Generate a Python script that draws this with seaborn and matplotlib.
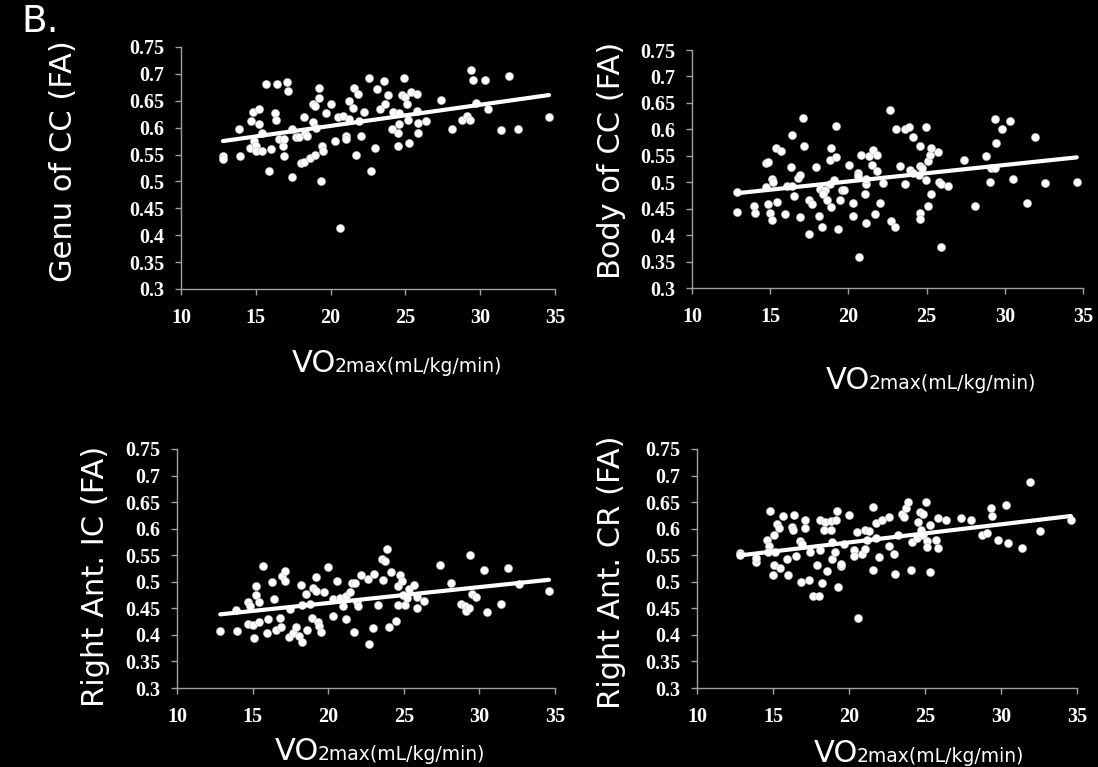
import numpy as np
import pandas as pd
import seaborn as sns
import matplotlib.pyplot as plt
from matplotlib.offsetbox import TextArea, HPacker, AnnotationBbox

# Data (VO2max vs. FA)
genu_x = [12.8, 12.8, 13.9, 13.95, 14.65, 14.6, 14.8, 14.9, 15.0, 15.0, 15.2, 15.2, 15.4, 15.4, 15.7, 15.9,
          16.0, 16.3, 16.35, 16.4, 16.55, 16.8, 16.9, 16.9, 17.1, 17.15, 17.4, 17.45, 17.7, 17.9, 18.05, 18.2,
          18.2, 18.3, 18.4, 18.6, 18.85, 18.85, 18.95, 18.95, 19.05, 19.2, 19.2, 19.4, 19.5, 19.35, 19.7, 20.05,
          20.3, 20.5, 20.65, 20.8, 21.05, 21.05, 21.2, 21.25, 21.5, 21.55, 21.7, 21.8, 21.9, 22.0, 22.2, 22.6,
          22.7, 22.95, 23.1, 23.3, 23.6, 23.65, 23.85, 24.1, 24.2, 24.5, 24.5, 24.6, 24.6, 24.8, 24.9, 24.95,
          25.1, 25.15, 25.25, 25.35, 25.75, 25.8, 25.85, 25.85, 26.4, 27.4, 28.1, 28.8, 29.1, 29.3, 29.4, 29.5,
          29.75, 30.3, 30.5, 31.4, 31.95, 32.55, 34.6]
genu_y = [0.547, 0.542, 0.598, 0.547, 0.612, 0.562, 0.63, 0.575, 0.565, 0.556, 0.606, 0.635, 0.59, 0.557, 0.681,
          0.52, 0.56, 0.628, 0.614, 0.681, 0.578, 0.565, 0.578, 0.547, 0.684, 0.669, 0.509, 0.598, 0.582, 0.582,
          0.535, 0.62, 0.537, 0.59, 0.585, 0.544, 0.61, 0.644, 0.64, 0.55, 0.6, 0.655, 0.674, 0.565, 0.556, 0.501,
          0.628, 0.644, 0.576, 0.62, 0.414, 0.622, 0.584, 0.579, 0.617, 0.649, 0.636, 0.674, 0.55, 0.663, 0.612,
          0.584, 0.63, 0.692, 0.52, 0.563, 0.671, 0.635, 0.686, 0.644, 0.661, 0.598, 0.63, 0.59, 0.565, 0.627,
          0.607, 0.66, 0.692, 0.657, 0.644, 0.615, 0.571, 0.666, 0.663, 0.631, 0.609, 0.59, 0.612, 0.652, 0.598,
          0.615, 0.622, 0.615, 0.707, 0.689, 0.645, 0.689, 0.635, 0.595, 0.697, 0.598, 0.62]

body_x = [12.87, 12.87, 13.94, 14.0, 14.7, 14.75, 14.85, 14.85, 15.0, 15.1, 15.1, 15.2, 15.4, 15.7, 15.45, 15.95,
          16.05, 16.3, 16.4, 16.4, 16.55, 16.8, 16.9, 16.9, 17.1, 17.15, 17.45, 17.5, 17.65, 17.9, 18.1, 18.2,
          18.4, 18.5, 18.3, 18.4, 18.6, 18.8, 18.85, 18.9, 18.9, 19.1, 19.2, 19.2, 19.35, 19.45, 19.6, 19.75,
          20.05, 20.3, 20.3, 20.6, 20.6, 20.65, 20.8, 21.05, 21.1, 21.15, 21.1, 21.3, 21.5, 21.6, 21.8, 21.7,
          21.85, 22.0, 22.2, 22.65, 22.7, 22.95, 23.05, 23.3, 23.6, 23.85, 23.65, 23.95, 24.15, 24.15, 24.5,
          24.55, 24.55, 24.6, 24.6, 24.7, 24.95, 24.95, 25.1, 25.1, 25.2, 25.3, 25.3, 25.7, 25.8, 25.9, 25.9,
          26.4, 27.4, 28.1, 28.8, 29.05, 29.1, 29.35, 29.35, 29.45, 29.8, 30.35, 30.5, 31.45, 31.95, 32.55, 34.6]
body_y = [0.482, 0.444, 0.455, 0.442, 0.491, 0.537, 0.539, 0.458, 0.442, 0.428, 0.507, 0.5, 0.565, 0.559, 0.463,
          0.439, 0.493, 0.528, 0.59, 0.493, 0.474, 0.508, 0.513, 0.434, 0.622, 0.568, 0.402, 0.467, 0.459, 0.528,
          0.436, 0.487, 0.482, 0.485, 0.415, 0.477, 0.466, 0.496, 0.542, 0.564, 0.453, 0.505, 0.547, 0.607, 0.412,
          0.466, 0.485, 0.485, 0.533, 0.461, 0.436, 0.517, 0.512, 0.359, 0.551, 0.477, 0.496, 0.507, 0.423, 0.549,
          0.533, 0.561, 0.551, 0.439, 0.521, 0.461, 0.498, 0.636, 0.426, 0.415, 0.6, 0.531, 0.6, 0.604, 0.496,
          0.523, 0.585, 0.517, 0.513, 0.442, 0.431, 0.568, 0.531, 0.526, 0.604, 0.504, 0.455, 0.54, 0.551, 0.564,
          0.477, 0.558, 0.5, 0.496, 0.378, 0.493, 0.542, 0.455, 0.549, 0.5, 0.526, 0.526, 0.619, 0.575, 0.6,
          0.616, 0.507, 0.461, 0.585, 0.498, 0.501]

ic_x = [12.86, 13.92, 13.96, 14.67, 14.67, 14.85, 15.0, 15.1, 15.2, 15.25, 15.4, 15.45, 15.7, 15.95, 16.0, 16.3,
        16.4, 16.55, 16.8, 16.9, 16.95, 17.15, 17.15, 17.4, 17.5, 17.65, 17.9, 18.05, 18.2, 18.25, 18.3, 18.5,
        18.6, 18.8, 18.9, 19.0, 19.2, 19.2, 19.35, 19.4, 19.5, 19.7, 20.0, 20.3, 20.3, 20.55, 20.8, 21.0, 21.15,
        21.2, 21.45, 21.6, 21.8, 21.7, 21.9, 22.0, 22.2, 22.6, 22.7, 22.95, 23.05, 23.3, 23.6, 23.55, 23.75,
        23.9, 24.05, 24.15, 24.5, 24.6, 24.6, 24.75, 24.85, 24.95, 25.1, 25.2, 25.35, 25.7, 25.85, 25.85, 26.35,
        27.4, 28.1, 28.75, 29.05, 29.1, 29.3, 29.4, 29.5, 29.8, 30.3, 30.5, 31.45, 31.9, 32.6, 34.6]
ic_y = [0.407, 0.446, 0.408, 0.421, 0.462, 0.455, 0.418, 0.394, 0.475, 0.492, 0.462, 0.424, 0.529, 0.403, 0.429,
        0.499, 0.468, 0.41, 0.432, 0.415, 0.51, 0.521, 0.501, 0.396, 0.448, 0.404, 0.415, 0.398, 0.494, 0.387,
        0.457, 0.477, 0.41, 0.459, 0.432, 0.489, 0.509, 0.482, 0.424, 0.417, 0.405, 0.48, 0.528, 0.435, 0.467,
        0.501, 0.47, 0.454, 0.429, 0.473, 0.481, 0.497, 0.497, 0.405, 0.462, 0.454, 0.512, 0.506, 0.383, 0.413,
        0.515, 0.456, 0.504, 0.543, 0.54, 0.561, 0.415, 0.518, 0.426, 0.492, 0.456, 0.512, 0.501, 0.476, 0.457,
        0.47, 0.487, 0.493, 0.45, 0.471, 0.463, 0.531, 0.498, 0.459, 0.455, 0.445, 0.45, 0.55, 0.477, 0.472,
        0.523, 0.443, 0.458, 0.526, 0.496, 0.482]

cr_x = [12.8, 12.85, 13.85, 13.9, 14.6, 14.75, 14.7, 14.8, 15.0, 15.05, 15.05, 15.15, 15.25, 15.4, 15.45, 15.65,
        15.9, 16.0, 16.25, 16.3, 16.35, 16.5, 16.8, 16.9, 16.85, 17.1, 17.1, 17.35, 17.45, 17.6, 18.05, 17.9,
        18.1, 18.1, 18.2, 18.35, 18.45, 18.55, 18.8, 18.8, 18.85, 18.9, 19.1, 19.15, 19.2, 19.3, 19.45, 19.5,
        19.65, 20.0, 20.3, 20.3, 20.5, 20.6, 20.85, 21.05, 21.05, 21.3, 21.2, 21.55, 21.6, 21.75, 21.8, 22.0,
        22.15, 22.6, 22.65, 22.95, 23.0, 23.25, 23.5, 23.65, 23.75, 23.9, 24.05, 24.15, 24.45, 24.55, 24.7,
        24.85, 24.75, 24.85, 25.05, 25.15, 25.15, 25.3, 25.35, 25.7, 25.85, 25.85, 26.4, 27.4, 28.05, 28.75,
        29.1, 29.35, 29.4, 29.8, 30.3, 30.45, 31.4, 31.9, 32.55, 34.6]
cr_y = [0.554, 0.551, 0.537, 0.545, 0.579, 0.567, 0.557, 0.634, 0.512, 0.588, 0.532, 0.556, 0.609, 0.601, 0.526,
        0.623, 0.542, 0.512, 0.604, 0.598, 0.625, 0.549, 0.576, 0.571, 0.499, 0.616, 0.601, 0.504, 0.556, 0.473,
        0.473, 0.531, 0.617, 0.559, 0.497, 0.598, 0.612, 0.52, 0.598, 0.614, 0.542, 0.575, 0.557, 0.617, 0.633,
        0.49, 0.529, 0.534, 0.571, 0.625, 0.559, 0.549, 0.594, 0.432, 0.552, 0.561, 0.598, 0.595, 0.579, 0.641,
        0.523, 0.61, 0.583, 0.547, 0.617, 0.622, 0.567, 0.552, 0.515, 0.589, 0.628, 0.622, 0.639, 0.65, 0.523,
        0.575, 0.583, 0.613, 0.632, 0.627, 0.598, 0.589, 0.65, 0.576, 0.565, 0.606, 0.518, 0.579, 0.62, 0.564,
        0.617, 0.62, 0.617, 0.588, 0.591, 0.639, 0.623, 0.579, 0.644, 0.573, 0.564, 0.687, 0.596, 0.617]

panel_names = ['Genu of CC (FA)', 'Body of CC (FA)', 'Right Ant. IC (FA)', 'Right Ant. CR (FA)']
x_ticks = [10, 15, 20, 25, 30, 35]
y_ticks = [0.3, 0.35, 0.4, 0.45, 0.5, 0.55, 0.6, 0.65, 0.7, 0.75]
y_ticklabels = ['0.3', '0.35', '0.4', '0.45', '0.5', '0.55', '0.6', '0.65', '0.7', '0.75']

sns.set_style('dark')
plt.rcParams['font.family'] = ['DejaVu Sans']

W, H = 1098, 767
fig = plt.figure(figsize=(W / 100, H / 100), dpi=100, facecolor='black')

# axes boxes in pixels: left, top, right, bottom
boxes = [(181, 47, 555, 289), (692, 50, 1083, 288), (177, 449, 555, 688), (697, 449, 1077, 688)]
ylabel_pos = [(64, 161), (611, 160), (96, 576), (611, 572)]
xlabel_pos = [(397, 363), (931, 380), (380, 752), (919, 754)]
data = [(genu_x, genu_y), (body_x, body_y), (ic_x, ic_y), (cr_x, cr_y)]

axis_gray = '#a0a0a0'
for (l, t, r, b), name, (xs, ys), (lx, ly), (xx, xy) in zip(boxes, panel_names, data, ylabel_pos, xlabel_pos):
    ax = fig.add_axes([l / W, 1 - b / H, (r - l) / W, (b - t) / H])
    ax.set_facecolor('black')
    df = pd.DataFrame({'vo2': xs, 'fa': ys})
    sns.scatterplot(data=df, x='vo2', y='fa', ax=ax, color='white', s=34,
                    edgecolor='#bbbbbb', linewidth=0.4, zorder=3)
    sns.regplot(data=df, x='vo2', y='fa', ax=ax, scatter=False, ci=None,
                color='white', line_kws={'lw': 3, 'zorder': 4})
    ax.set_xlim(10, 35)
    ax.set_ylim(0.3, 0.75)
    ax.set_xticks(x_ticks)
    ax.set_yticks(y_ticks)
    ax.set_yticklabels(y_ticklabels)
    ax.set_xlabel('')
    ax.set_ylabel('')
    ax.grid(False)
    for side in ['top', 'right']:
        ax.spines[side].set_visible(False)
    for side in ['left', 'bottom']:
        ax.spines[side].set_visible(True)
        ax.spines[side].set_color(axis_gray)
        ax.spines[side].set_linewidth(1)
    ax.tick_params(axis='both', colors=axis_gray, labelcolor='white', length=4, width=1, direction='out')
    ax.tick_params(axis='x', pad=9.5, bottom=True)
    ax.tick_params(axis='y', pad=8, left=True)
    for lab in ax.get_xticklabels() + ax.get_yticklabels():
        lab.set_fontfamily('Liberation Serif')
        lab.set_fontweight('bold')
        lab.set_fontsize(14.5)

    fig.text(lx / W, 1 - ly / H, name, rotation=90, ha='center', va='center',
             color='white', fontsize=22)

    vo = TextArea('VO', textprops=dict(color='white', size=22))
    sub = TextArea('2max(mL/kg/min)', textprops=dict(color='white', size=13.5))
    box = HPacker(children=[vo, sub], align='baseline', pad=0, sep=-1)
    ab = AnnotationBbox(box, (xx / W, 1 - xy / H), xycoords='figure fraction',
                        frameon=False, box_alignment=(0.5, 0.5), annotation_clip=False)
    fig.add_artist(ab)

fig.text(21 / W, 1 - 4 / H, 'B.', color='white', fontsize=27, ha='left', va='top')

fig.savefig('out.png', dpi=100, facecolor='black')
